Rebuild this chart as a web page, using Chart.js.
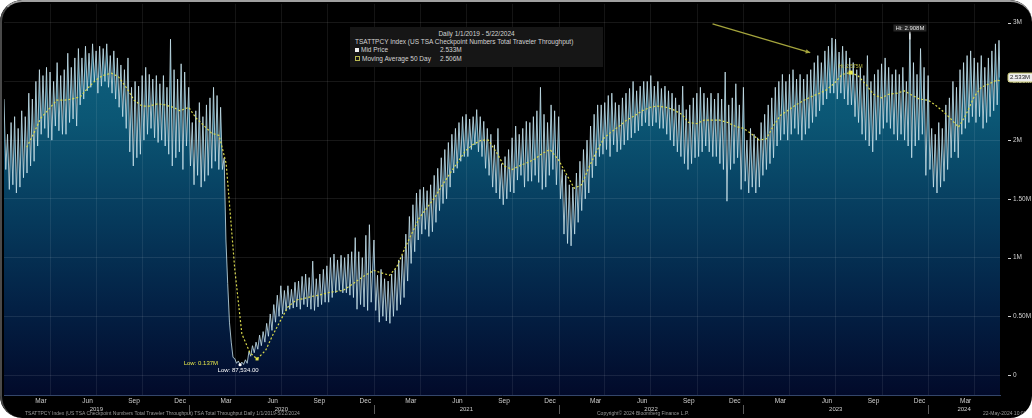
<!DOCTYPE html>
<html>
<head>
<meta charset="utf-8">
<title>TSA Checkpoint Numbers</title>
<script src="https://cdn.jsdelivr.net/npm/chart.js@4.4.1/dist/chart.umd.min.js"></script>
<style>
  html, body { margin: 0; padding: 0; background: #fff; }
  #wrap { position: relative; width: 1032px; height: 418px; background: #000; border-radius: 22px; overflow: hidden; font-family: "Liberation Sans", Arial, sans-serif; }
  #frame { position: absolute; left: 0; top: 0; right: 0; bottom: 0; border-top: 2px solid #a0a0a0; border-left: 2px solid #4a4a4a; border-radius: 22px; pointer-events: none; }
  #legend { position: absolute; left: 350px; top: 27px; width: 253px; height: 40px; background: #161616; color: #d4d4d4; font-size: 6.5px; line-height: 8.2px; padding-top: 3px; box-sizing: border-box; }
  #legend div { position: relative; padding-left: 5px; white-space: nowrap; }
  #legend .c { text-align: center; padding-left: 0; }
  #legend .v { position: absolute; left: 90px; }
  .sw { display: inline-block; width: 4px; height: 4px; margin-right: 2px; vertical-align: 0; }
  .sw.w { background: #f0f0f0; }
  .sw.y { border: 1px solid #b8b850; width: 3px; height: 3px; }
  .foot { position: absolute; top: 410px; font-size: 5px; color: #9a9a9a; white-space: nowrap; }
</style>
</head>
<body>
<div id="wrap">
  <canvas id="chart" width="1032" height="418"></canvas>
  <div id="legend">
    <div class="c">Daily 1/1/2019 - 5/22/2024</div>
    <div>TSATTPCY Index (US TSA Checkpoint Numbers Total Traveler Throughput)</div>
    <div><span class="sw w"></span>Mid Price<span class="v" id="mid-value"></span></div>
    <div><span class="sw y"></span>Moving Average 50 Day<span class="v" id="ma-value"></span></div>
  </div>
  <div class="foot" style="left:25px">TSATTPCY Index (US TSA Checkpoint Numbers Total Traveler Throughput)  TSA Total Throughput  Daily 1/1/2019-5/22/2024</div>
  <div class="foot" style="left:597px">Copyright© 2024 Bloomberg Finance L.P.</div>
  <div class="foot" style="left:983px">22-May-2024 10:07:51</div>
  <div id="frame"></div>
</div>
<script>
const years = [2019, 2020, 2021, 2022, 2023, 2024];
const quarterMonths = ["Mar", "Jun", "Sep", "Dec"];
const yTicks = [0, 0.5, 1, 1.5, 2, 2.5, 3];
const yTickLabels = ["0", "0.50M", "1M", "1.50M", "2M", "2.50M", "3M"];

// weekly high / low of daily throughput, millions
const hi2019 = [2.35, 2.05, 2.15, 2.2, 2.1, 2.25, 2.2, 2.4, 2.35, 2.5, 2.6, 2.55, 2.62, 2.58, 2.5, 2.66, 2.55, 2.6, 2.74, 2.62, 2.7, 2.78, 2.7, 2.8, 2.74, 2.82, 2.76, 2.8, 2.78, 2.82, 2.72, 2.76, 2.7, 2.64, 2.6, 2.7, 2.45, 2.5, 2.46, 2.55, 2.62, 2.56, 2.52, 2.55, 2.48, 2.55, 2.45, 2.86, 2.6, 2.52, 2.65, 2.58];
const lo2019 = [1.75, 1.58, 1.62, 1.55, 1.6, 1.68, 1.72, 1.78, 1.82, 1.95, 2.05, 2.1, 2.02, 2.0, 2.12, 2.08, 2.05, 2.05, 2.15, 2.18, 2.12, 2.3, 2.35, 2.42, 2.45, 2.5, 2.4, 2.46, 2.5, 2.45, 2.4, 2.35, 2.28, 2.2, 2.1, 1.9, 1.78, 1.85, 1.88, 2.0, 2.05, 2.1, 2.02, 1.98, 2.0, 1.95, 1.88, 1.78, 1.85, 1.9, 1.75, 1.95];
const hi2020 = [2.45, 2.15, 2.25, 2.32, 2.2, 2.3, 2.36, 2.45, 2.38, 2.28, 1.85, 0.78, 0.28, 0.14, 0.12, 0.11, 0.13, 0.2, 0.25, 0.28, 0.34, 0.37, 0.44, 0.52, 0.6, 0.68, 0.76, 0.72, 0.76, 0.73, 0.79, 0.8, 0.84, 0.86, 0.83, 0.97, 0.82, 0.86, 0.9, 0.93, 1.0, 1.03, 0.98, 1.02, 1.0, 1.03, 1.05, 1.17, 1.05, 1.0, 1.19, 1.28];
const lo2020 = [1.78, 1.62, 1.7, 1.6, 1.65, 1.7, 1.76, 1.82, 1.75, 1.75, 1.15, 0.45, 0.15, 0.1, 0.087534, 0.09, 0.1, 0.16, 0.19, 0.22, 0.25, 0.28, 0.33, 0.38, 0.45, 0.5, 0.52, 0.55, 0.56, 0.57, 0.58, 0.56, 0.6, 0.58, 0.56, 0.55, 0.58, 0.6, 0.62, 0.62, 0.66, 0.7, 0.72, 0.7, 0.7, 0.68, 0.66, 0.56, 0.6, 0.58, 0.55, 0.62];
const hi2021 = [1.15, 0.85, 0.9, 0.82, 0.8, 0.86, 0.9, 0.98, 1.02, 1.2, 1.35, 1.45, 1.55, 1.58, 1.6, 1.57, 1.62, 1.7, 1.76, 1.85, 1.92, 1.98, 2.05, 2.1, 2.15, 2.2, 2.22, 2.18, 2.2, 2.26, 2.2, 2.16, 2.1, 2.05, 1.96, 2.1, 1.8, 1.86, 1.92, 2.02, 2.12, 2.05, 2.1, 2.16, 2.15, 2.2, 2.25, 2.45, 2.22, 2.15, 2.3, 2.25];
const lo2021 = [0.55, 0.45, 0.5, 0.46, 0.44, 0.5, 0.55, 0.6, 0.66, 0.8, 0.95, 1.05, 1.15, 1.2, 1.24, 1.18, 1.22, 1.3, 1.4, 1.46, 1.5, 1.6, 1.72, 1.76, 1.82, 1.86, 1.86, 1.92, 1.96, 1.9, 1.86, 1.76, 1.7, 1.6, 1.55, 1.5, 1.45, 1.5, 1.56, 1.55, 1.66, 1.7, 1.6, 1.65, 1.65, 1.7, 1.64, 1.58, 1.6, 1.7, 1.75, 1.62];
const hi2022 = [2.2, 1.75, 1.7, 1.62, 1.6, 1.72, 1.82, 1.92, 2.0, 2.12, 2.22, 2.3, 2.3, 2.32, 2.38, 2.4, 2.32, 2.3, 2.36, 2.4, 2.44, 2.5, 2.42, 2.46, 2.5, 2.5, 2.55, 2.46, 2.5, 2.44, 2.46, 2.42, 2.4, 2.36, 2.3, 2.46, 2.26, 2.3, 2.36, 2.4, 2.45, 2.4, 2.36, 2.4, 2.35, 2.4, 2.35, 2.58, 2.3, 2.36, 2.48, 2.3];
const lo2022 = [1.5, 1.2, 1.12, 1.1, 1.2, 1.3, 1.4, 1.5, 1.55, 1.68, 1.78, 1.86, 1.88, 1.92, 1.86, 1.96, 1.9, 1.92, 1.96, 2.0, 2.02, 2.06, 2.08, 2.12, 2.15, 2.12, 2.12, 2.15, 2.1, 2.1, 2.05, 2.0, 1.95, 1.9, 1.86, 1.8, 1.75, 1.8, 1.85, 1.86, 1.9, 1.95, 1.9, 1.86, 1.86, 1.8, 1.75, 1.48, 1.75, 1.8, 1.85, 1.58];
const hi2023 = [2.45, 2.0, 2.1, 2.05, 2.02, 2.15, 2.22, 2.3, 2.36, 2.45, 2.5, 2.56, 2.5, 2.56, 2.6, 2.52, 2.56, 2.52, 2.56, 2.6, 2.66, 2.72, 2.66, 2.76, 2.8, 2.87, 2.86, 2.75, 2.8, 2.76, 2.7, 2.66, 2.6, 2.62, 2.55, 2.72, 2.5, 2.56, 2.6, 2.65, 2.7, 2.62, 2.56, 2.6, 2.56, 2.62, 2.5, 2.908, 2.66, 2.56, 2.78, 2.62];
const lo2023 = [1.65, 1.55, 1.6, 1.55, 1.6, 1.7, 1.75, 1.8, 1.85, 1.95, 2.0, 2.05, 2.0, 2.05, 2.1, 2.05, 2.0, 2.05, 2.1, 2.15, 2.2, 2.25, 2.3, 2.35, 2.4, 2.4, 2.35, 2.4, 2.35, 2.3, 2.3, 2.2, 2.15, 2.05, 2.0, 1.95, 1.9, 2.0, 2.05, 2.1, 2.15, 2.1, 2.05, 2.0, 2.05, 2.0, 1.95, 1.85, 1.95, 2.0, 2.05, 1.7];
const hi2024 = [2.55, 2.1, 2.05, 2.15, 2.1, 2.3, 2.36, 2.5, 2.45, 2.6, 2.66, 2.72, 2.76, 2.7, 2.66, 2.72, 2.62, 2.7, 2.76, 2.82, 2.85];
const lo2024 = [1.75, 1.6, 1.55, 1.6, 1.65, 1.75, 1.85, 1.9, 1.85, 2.05, 2.1, 2.15, 2.2, 2.15, 2.2, 2.1, 2.15, 2.2, 2.25, 2.3, 2.533];

// 50 day moving average, 1st and 15th of each month (2019 starts Feb 15)
const ma2019 = [1.94, 2.06, 2.19, 2.27, 2.34, 2.34, 2.35, 2.37, 2.44, 2.51, 2.55, 2.57, 2.54, 2.44, 2.34, 2.29, 2.29, 2.31, 2.3, 2.28, 2.25];
const ma2020 = [2.28, 2.19, 2.12, 2.06, 2.04, 1.8, 0.9, 0.35, 0.19, 0.137, 0.21, 0.34, 0.47, 0.58, 0.64, 0.65, 0.67, 0.68, 0.7, 0.71, 0.72, 0.76, 0.81, 0.85];
const ma2021 = [0.89, 0.87, 0.85, 0.92, 1.06, 1.19, 1.34, 1.42, 1.51, 1.61, 1.72, 1.81, 1.91, 1.96, 2.0, 2.0, 1.89, 1.78, 1.75, 1.78, 1.81, 1.84, 1.89, 1.92];
const ma2022 = [1.83, 1.72, 1.59, 1.62, 1.76, 1.89, 2.02, 2.07, 2.12, 2.17, 2.21, 2.25, 2.28, 2.29, 2.28, 2.26, 2.22, 2.15, 2.14, 2.17, 2.17, 2.17, 2.15, 2.12];
const ma2023 = [2.1, 2.06, 2.0, 2.01, 2.12, 2.21, 2.26, 2.3, 2.34, 2.37, 2.4, 2.43, 2.49, 2.56, 2.575, 2.55, 2.47, 2.39, 2.36, 2.39, 2.4, 2.42, 2.38, 2.35];
const ma2024 = [2.34, 2.3, 2.24, 2.18, 2.11, 2.21, 2.37, 2.45, 2.48, 2.51];
const maLatest = 2.506;
const midLatest = 2.533;

const highs = [hi2019, hi2020, hi2021, hi2022, hi2023, hi2024];
const lows = [lo2019, lo2020, lo2021, lo2022, lo2023, lo2024];
const mas = [ma2019, ma2020, ma2021, ma2022, ma2023, ma2024];

const dayOf = (y, m, d) => (Date.UTC(y, m, d) - Date.UTC(2019, 0, 1)) / 86400000;
const lastDay = dayOf(2024, 4, 22);

const dailyPoints = [];
years.forEach((yr, i) => {
  highs[i].forEach((h, w) => {
    const start = dayOf(yr, 0, 1) + w * 7;
    dailyPoints.push({ x: start, y: h });
    dailyPoints.push({ x: Math.min(start + 3.5, lastDay), y: lows[i][w] });
  });
});

const maPoints = [];
years.forEach((yr, i) => {
  const first = yr === 2019 ? 3 : 0;
  mas[i].forEach((v, j) => {
    const k = first + j;
    maPoints.push({ x: dayOf(yr, Math.floor(k / 2), k % 2 ? 15 : 1), y: v });
  });
});
maPoints.push({ x: lastDay, y: maLatest });

const monthIdx = { Mar: 2, Jun: 5, Sep: 8, Dec: 11 };
const xTicks = [];
years.forEach((yr) =>
  quarterMonths.forEach((m) => {
    const d = dayOf(yr, monthIdx[m], 15);
    if (d <= lastDay) xTicks.push({ value: d, label: m });
  })
);
const gridDays = [];
years.forEach((yr) =>
  [0, 3, 6, 9].forEach((m) => {
    const d = dayOf(yr, m, 1);
    if (d > 0 && d < lastDay) gridDays.push(d);
  })
);

const arrowFrom = { x: dayOf(2022, 10, 1), y: 2.99 };
const arrowTo = { x: dayOf(2023, 4, 13), y: 2.745 };

document.getElementById("mid-value").textContent = `${midLatest.toFixed(3)}M`;
document.getElementById("ma-value").textContent = `${maLatest.toFixed(3)}M`;

const areaGradient = (context) => {
  const { ctx, chartArea } = context.chart;
  if (!chartArea) return "rgb(10,80,110)";
  const g = ctx.createLinearGradient(0, chartArea.top, 0, chartArea.bottom);
  g.addColorStop(0, "rgb(16,104,134)");
  g.addColorStop(0.3, "rgb(11,86,116)");
  g.addColorStop(0.55, "rgb(6,58,92)");
  g.addColorStop(0.78, "rgb(3,32,68)");
  g.addColorStop(1, "rgb(2,10,42)");
  return g;
};

const overlay = {
  id: "overlay",
  afterDatasetsDraw(chart) {
    const { ctx, chartArea, scales } = chart;
    ctx.save();
    ctx.strokeStyle = "rgba(255,255,255,0.08)";
    ctx.lineWidth = 1;
    gridDays.forEach((d) => {
      const px = Math.round(scales.x.getPixelForValue(d)) + 0.5;
      ctx.beginPath();
      ctx.moveTo(px, chartArea.top);
      ctx.lineTo(px, chartArea.bottom);
      ctx.stroke();
    });
    ctx.restore();
  },
  afterDraw(chart) {
    const { ctx, chartArea, scales } = chart;
    const xs = scales.x;
    const ys = scales.y;
    ctx.save();
    ctx.font = "6px 'Liberation Sans', Arial, sans-serif";
    ctx.textBaseline = "middle";

    // year labels and separators
    ctx.fillStyle = "#cfcfcf";
    ctx.textAlign = "center";
    ctx.strokeStyle = "#5a5a5a";
    years.forEach((yr) => {
      const a = dayOf(yr, 0, 1);
      const b = Math.min(dayOf(yr + 1, 0, 1), lastDay);
      ctx.fillText(String(yr), xs.getPixelForValue((a + b) / 2), chartArea.bottom + 14);
      if (a > 0) {
        const px = Math.round(xs.getPixelForValue(a)) + 0.5;
        ctx.beginPath();
        ctx.moveTo(px, chartArea.bottom + 10);
        ctx.lineTo(px, chartArea.bottom + 19);
        ctx.stroke();
      }
    });

    // y tick dashes
    ctx.strokeStyle = "#d0d0d0";
    yTicks.forEach((v) => {
      const py = Math.round(ys.getPixelForValue(v)) + 0.5;
      ctx.beginPath();
      ctx.moveTo(chartArea.right + 8, py);
      ctx.lineTo(chartArea.right + 11, py);
      ctx.stroke();
    });

    // last price box
    const ly = ys.getPixelForValue(midLatest);
    ctx.fillStyle = "#ececec";
    ctx.strokeStyle = "#c8c870";
    ctx.beginPath();
    ctx.roundRect(chartArea.right + 8, ly - 4.5, 26, 9, 2);
    ctx.fill();
    ctx.stroke();
    ctx.fillStyle = "#222";
    ctx.textAlign = "left";
    ctx.fillText(`${midLatest.toFixed(3)}M`, chartArea.right + 10, ly);

    // daily low / high
    const minP = dailyPoints.reduce((a, p) => (p.y < a.y ? p : a));
    const maxP = dailyPoints.reduce((a, p) => (p.y > a.y ? p : a));
    let px = xs.getPixelForValue(minP.x);
    let py = ys.getPixelForValue(minP.y);
    ctx.fillStyle = "#ffffff";
    ctx.beginPath();
    ctx.arc(px, py, 1.6, 0, Math.PI * 2);
    ctx.fill();
    ctx.textAlign = "center";
    const lowTxt = (minP.y * 1e6).toLocaleString("en-US", { minimumFractionDigits: 2, maximumFractionDigits: 2 });
    ctx.fillText(`Low: ${lowTxt}`, px - 2, py + 6);

    px = xs.getPixelForValue(maxP.x);
    py = ys.getPixelForValue(maxP.y);
    ctx.strokeStyle = "#ffffff";
    ctx.beginPath();
    ctx.moveTo(px, py - 2);
    ctx.lineTo(px, py + 6);
    ctx.stroke();
    const hiTxt = `Hi: ${maxP.y.toFixed(3)}M`;
    const hw = ctx.measureText(hiTxt).width + 4;
    ctx.fillStyle = "#262626";
    ctx.fillRect(px - hw / 2, py - 9, hw, 7);
    ctx.fillStyle = "#e0e0e0";
    ctx.fillText(hiTxt, px, py - 5.5);

    // moving average low / high
    const maMin = maPoints.reduce((a, p) => (p.y < a.y ? p : a));
    const maMax = maPoints.reduce((a, p) => (p.y > a.y ? p : a));
    ctx.fillStyle = "#e8e84a";
    px = xs.getPixelForValue(maMin.x);
    py = ys.getPixelForValue(maMin.y);
    ctx.fillRect(px - 1.5, py - 1.5, 3, 3);
    ctx.textAlign = "right";
    ctx.fillText(`Low: ${maMin.y.toFixed(3)}M`, px - 39, py + 4);
    px = xs.getPixelForValue(maMax.x);
    py = ys.getPixelForValue(maMax.y);
    ctx.fillRect(px - 2, py - 2, 4, 4);
    ctx.textAlign = "center";
    ctx.font = "5px 'Liberation Sans', Arial, sans-serif";
    ctx.fillStyle = "#b8b840";
    ctx.fillText(`Hi: ${maMax.y.toFixed(3)}M`, px, py - 6);

    // arrow annotation
    const ax = xs.getPixelForValue(arrowFrom.x);
    const ay = ys.getPixelForValue(arrowFrom.y);
    const bx = xs.getPixelForValue(arrowTo.x);
    const by = ys.getPixelForValue(arrowTo.y);
    const ang = Math.atan2(by - ay, bx - ax);
    ctx.strokeStyle = "#a4a43c";
    ctx.fillStyle = "#a4a43c";
    ctx.lineWidth = 1.3;
    ctx.beginPath();
    ctx.moveTo(ax, ay);
    ctx.lineTo(bx, by);
    ctx.stroke();
    ctx.beginPath();
    ctx.moveTo(bx, by);
    ctx.lineTo(bx - 5 * Math.cos(ang - 0.45), by - 5 * Math.sin(ang - 0.45));
    ctx.lineTo(bx - 5 * Math.cos(ang + 0.45), by - 5 * Math.sin(ang + 0.45));
    ctx.closePath();
    ctx.fill();
    ctx.restore();
  },
};

Chart.defaults.font.family = "'Liberation Sans', Arial, sans-serif";

const canvas = document.getElementById("chart");
new Chart(canvas, {
  type: "line",
  data: {
    datasets: [
      {
        label: "Moving Average 50 Day",
        data: maPoints,
        borderColor: "#d8d84c",
        borderWidth: 1.2,
        borderDash: [2, 2],
        pointRadius: 0,
        fill: false,
        order: 0,
      },
      {
        label: "Mid Price",
        data: dailyPoints,
        borderColor: "rgba(200,228,238,0.8)",
        borderWidth: 1,
        pointRadius: 0,
        fill: "start",
        backgroundColor: areaGradient,
        order: 1,
      },
    ],
  },
  options: {
    responsive: false,
    animation: false,
    layout: { padding: { left: 4, top: 3, right: 0, bottom: 0 } },
    plugins: { legend: { display: false }, tooltip: { enabled: false } },
    scales: {
      x: {
        type: "linear",
        min: 0,
        max: lastDay,
        afterBuildTicks: (s) => {
          s.ticks = xTicks.map((t) => ({ value: t.value }));
        },
        ticks: {
          callback: (v, i) => xTicks[i].label,
          autoSkip: false,
          maxRotation: 0,
          color: "#cfcfcf",
          font: { size: 6.5 },
          padding: 2,
        },
        grid: { display: false, drawTicks: false },
        border: { color: "#34466a" },
        afterFit: (s) => {
          s.height = 23;
        },
      },
      y: {
        position: "right",
        min: -0.17,
        max: 3.16,
        afterBuildTicks: (s) => {
          s.ticks = yTicks.map((v) => ({ value: v }));
        },
        ticks: {
          callback: (v, i) => yTickLabels[i],
          color: "#cfcfcf",
          font: { size: 6.5 },
          padding: 0,
        },
        grid: { color: "rgba(255,255,255,0.09)", tickLength: 13, tickColor: "rgba(0,0,0,0)", z: 1 },
        border: { color: "#555" },
        afterFit: (s) => {
          s.width = 32;
        },
      },
    },
  },
  plugins: [overlay],
});
</script>
</body>
</html>
